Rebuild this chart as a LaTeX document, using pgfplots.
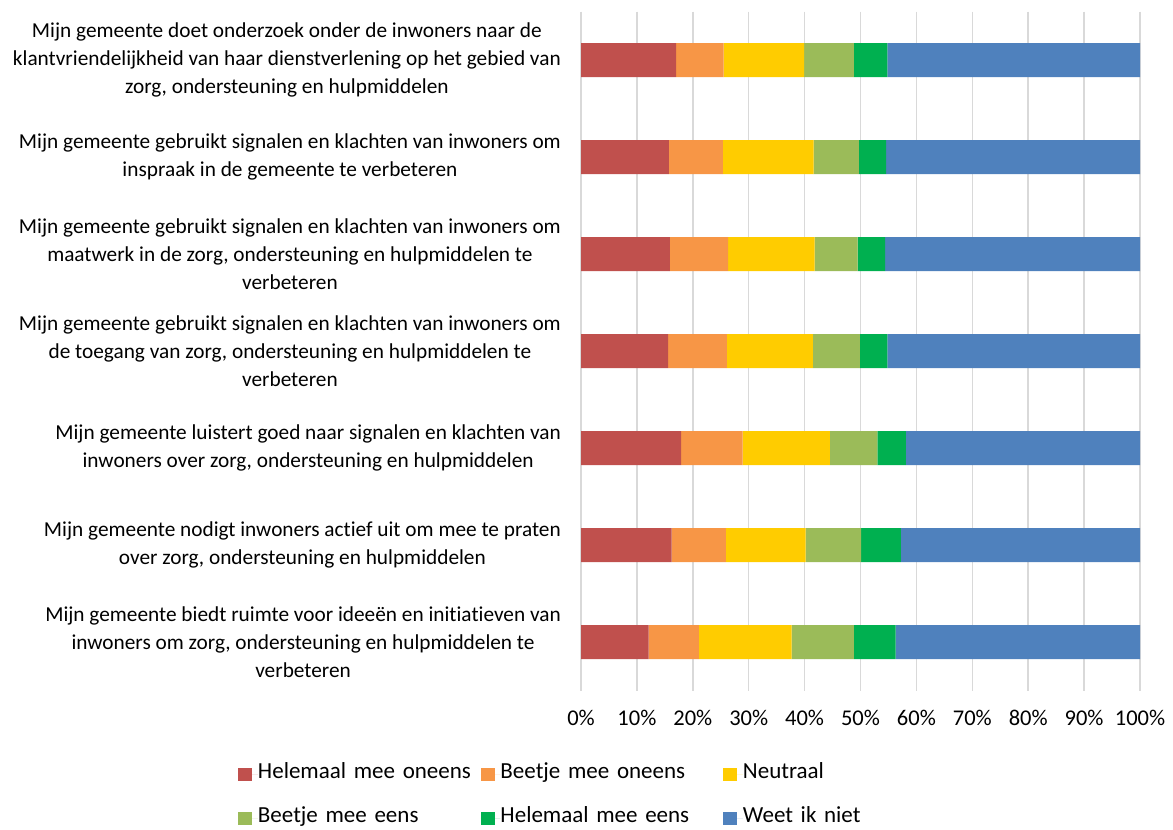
\documentclass[border=0pt]{standalone}
\usepackage{pgfplots}
\pgfplotsset{compat=1.18}
\usepackage{fontspec}
\setmainfont{Carlito}[Ligatures=NoCommon]
\definecolor{c1}{HTML}{C0504D}
\definecolor{c2}{HTML}{F79646}
\definecolor{c3}{HTML}{FFCC00}
\definecolor{c4}{HTML}{9BBB59}
\definecolor{c5}{HTML}{00B050}
\definecolor{c6}{HTML}{4F81BD}
\newcommand{\lf}{\fontsize{21.3bp}{28bp}\selectfont}
\newcommand{\tf}{\fontsize{22.5bp}{26bp}\selectfont}
\newcommand{\gf}{\fontsize{23bp}{26bp}\selectfont}
\begin{document}
\begin{tikzpicture}
\path[use as bounding box] (0,0) rectangle (1173bp,830bp);
\begin{axis}[
  at={(581bp,139.5bp)}, anchor=south west,
  scale only axis, width=559bp, height=679bp,
  xbar stacked, bar width=34bp,
  xmin=0, xmax=100, ymin=0.5, ymax=7.5, y dir=reverse,
  ytick={1,...,7},
  yticklabels={
    {Mijn gemeente doet onderzoek onder de inwoners naar de\\klantvriendelijkheid van haar dienstverlening op het gebied van\\zorg, ondersteuning en hulpmiddelen},
    {Mijn gemeente gebruikt signalen en klachten van inwoners om\\inspraak in de gemeente te verbeteren},
    {Mijn gemeente gebruikt signalen en klachten van inwoners om\\maatwerk in de zorg, ondersteuning en hulpmiddelen te\\verbeteren},
    {Mijn gemeente gebruikt signalen en klachten van inwoners om\\de toegang van zorg, ondersteuning en hulpmiddelen te\\verbeteren},
    {Mijn gemeente luistert goed naar signalen en klachten van\\inwoners over zorg, ondersteuning en hulpmiddelen},
    {Mijn gemeente nodigt inwoners actief uit om mee te praten\\over zorg, ondersteuning en hulpmiddelen},
    {Mijn gemeente biedt ruimte voor ideeën en initiatieven van\\inwoners om zorg, ondersteuning en hulpmiddelen te\\verbeteren}},
  yticklabel style={align=center, font=\lf, inner sep=0pt, xshift=-20bp},
  xtick={0,10,...,100},
  xticklabel={\pgfmathprintnumber{\tick}\%},
  /pgf/number format/assume math mode=true,
  xticklabel style={font=\tf, yshift=-16bp},
  xmajorgrids, grid style={draw=black!15, line width=1.5bp},
  axis line style={draw=none}, major tick style={draw=none},
  legend columns=3,
  legend cell align=left,
  legend style={at={(-0.6131,-0.1090)}, anchor=north west, draw=none, fill=none, inner sep=0pt,
    font=\gf, nodes={inner sep=0pt, text width=223bp, align=left, text height=14bp, text depth=5bp},
    /tikz/row sep=25bp},
  sq/.style={legend image code/.code={\fill[##1] (0bp,-6.7bp) rectangle (14bp,6.7bp); \path (0bp,0bp) -- (19.5bp,0bp);}},
]
\addplot[fill=c1, draw=none, sq] coordinates {(17.0,1) (15.7,2) (15.9,3) (15.6,4) (17.9,5) (16.2,6) (12.1,7)};
\addplot[fill=c2, draw=none, sq] coordinates {(8.5,1) (9.7,2) (10.4,3) (10.5,4) (11.0,5) (9.7,6) (9.0,7)};
\addplot[fill=c3, draw=none, sq] coordinates {(14.4,1) (16.2,2) (15.5,3) (15.4,4) (15.6,5) (14.3,6) (16.6,7)};
\addplot[fill=c4, draw=none, sq] coordinates {(8.9,1) (8.1,2) (7.7,3) (8.4,4) (8.5,5) (9.9,6) (11.1,7)};
\addplot[fill=c5, draw=none, sq] coordinates {(6.0,1) (4.9,2) (4.9,3) (4.9,4) (5.1,5) (7.1,6) (7.5,7)};
\addplot[fill=c6, draw=none, sq] coordinates {(45.2,1) (45.4,2) (45.6,3) (45.2,4) (41.9,5) (42.8,6) (43.7,7)};
\legend{Helemaal mee oneens, Beetje mee oneens, Neutraal, Beetje mee eens, Helemaal mee eens, Weet ik niet}
\end{axis}
\end{tikzpicture}
\end{document}
